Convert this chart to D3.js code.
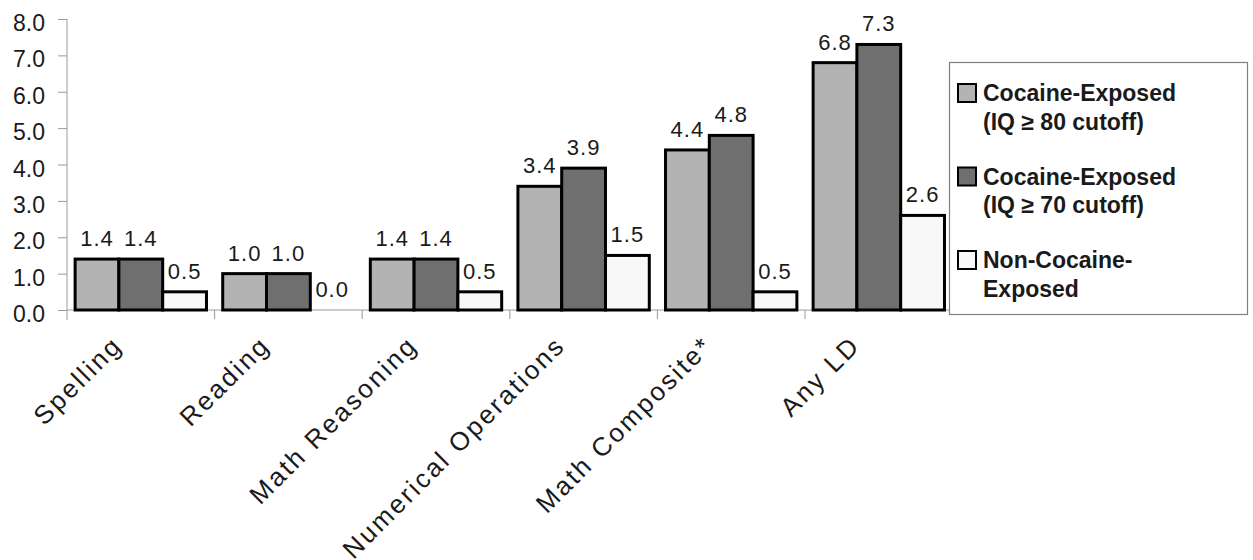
<!DOCTYPE html>
<html>
<head>
<meta charset="utf-8">
<script src="https://cdn.jsdelivr.net/npm/d3@7"></script>
<style>
  body { margin: 0; background: #fff; }
  svg { display: block; }
  text { font-family: "Liberation Sans", Arial, sans-serif; fill: #1a1a1a; }
</style>
</head>
<body>
<script>
const categories = ["Spelling", "Reading", "Math Reasoning", "Numerical Operations", "Math Composite*", "Any LD"];
const seriesNames = ["Cocaine-Exposed (IQ ≥ 80 cutoff)", "Cocaine-Exposed (IQ ≥ 70 cutoff)", "Non-Cocaine-Exposed"];
const legendLines = [["Cocaine-Exposed", "(IQ \u2265 80 cutoff)"], ["Cocaine-Exposed", "(IQ \u2265 70 cutoff)"], ["Non-Cocaine-", "Exposed"]];
const iq80 = [1.4, 1.0, 1.4, 3.4, 4.4, 6.8];
const iq70 = [1.4, 1.0, 1.4, 3.9, 4.8, 7.3];
const nonExposed = [0.5, 0.0, 0.5, 1.5, 0.5, 2.6];
const yTicks = [0, 1, 2, 3, 4, 5, 6, 7, 8];
const colors = ["#b3b3b3", "#6f6f6f", "#f8f8f8"];

const W = 1253, H = 560;
const plotLeft = 67, plotRight = 952.6, plotTop = 19, plotBottom = 310;

const svg = d3.select("body").append("svg").attr("width", W).attr("height", H);

const x0 = d3.scaleBand().domain(categories).range([plotLeft, plotRight]).padding(0);
const x1 = d3.scaleBand().domain([0, 1, 2]).range([x0.bandwidth() * 0.055, x0.bandwidth() * 0.945]).padding(0);
const y = d3.scaleLinear().domain([0, 8]).range([plotBottom, plotTop]);

const axisColor = "#9a9a9a";

// Y axis
const yAxis = svg.append("g").attr("transform", `translate(${plotLeft},0)`)
  .call(d3.axisLeft(y).tickValues(yTicks).tickFormat(d3.format(".1f")).tickSize(9).tickPadding(13));
yAxis.select(".domain").remove();
yAxis.selectAll(".tick line").attr("stroke", axisColor);
yAxis.selectAll(".tick text").attr("font-size", 23).attr("dy", "0.5em").style("fill", "#1a1a1a")
  .attr("font-family", "Liberation Sans, Arial, sans-serif");
svg.append("line").attr("x1", plotLeft).attr("x2", plotLeft).attr("y1", plotTop).attr("y2", plotBottom + 10)
  .attr("stroke", axisColor).attr("stroke-width", 1);

// X axis line and category boundary ticks
svg.append("line").attr("x1", plotLeft).attr("x2", plotRight).attr("y1", plotBottom).attr("y2", plotBottom)
  .attr("stroke", axisColor).attr("stroke-width", 1);
svg.append("g").selectAll("line").data(categories.slice(1)).join("line")
  .attr("x1", d => x0(d)).attr("x2", d => x0(d))
  .attr("y1", plotBottom).attr("y2", plotBottom + 9)
  .attr("stroke", axisColor);

const seriesData = [iq80, iq70, nonExposed];

const groups = svg.append("g").selectAll("g").data(categories).join("g")
  .attr("transform", d => `translate(${x0(d)},0)`);

groups.each(function(cat, ci) {
  const g = d3.select(this);
  seriesData.forEach((vals, si) => {
    const v = vals[ci];
    if (v > 0) {
      g.append("rect")
        .attr("x", x1(si)).attr("width", x1.bandwidth())
        .attr("y", y(v)).attr("height", y(0) - y(v))
        .attr("fill", colors[si]).attr("stroke", "#000").attr("stroke-width", 3);
    }
    g.append("text")
      .attr("x", x1(si) + x1.bandwidth() / 2)
      .attr("y", y(v) - 13)
      .attr("text-anchor", "middle")
      .attr("font-size", 22)
      .attr("letter-spacing", 1)
      .text(d3.format(".1f")(v));
  });
});

// Category labels
svg.append("g").selectAll("text").data(categories).join("text")
  .attr("transform", d => `translate(${x0(d) + x0.bandwidth() / 2 - 17},347) rotate(-45)`)
  .attr("text-anchor", "end")
  .attr("font-size", 26)
  .attr("letter-spacing", 2.5)
  .text(d => d);

// Legend
const lg = svg.append("g");
lg.append("rect").attr("x", 949.5).attr("y", 62.5).attr("width", 298).attr("height", 252)
  .attr("fill", "#fff").attr("stroke", "#808080").attr("stroke-width", 1.2);
legendLines.forEach((lines, i) => {
  const by = 101 + i * 83.5;
  lg.append("rect").attr("x", 958).attr("y", by - 17).attr("width", 18).attr("height", 18)
    .attr("fill", colors[i]).attr("stroke", "#000").attr("stroke-width", 2);
  lines.forEach((t, j) => {
    lg.append("text").attr("x", 983).attr("y", by + j * 28.5)
      .attr("font-size", 23).attr("font-weight", "bold").text(t);
  });
});
</script>
</body>
</html>
